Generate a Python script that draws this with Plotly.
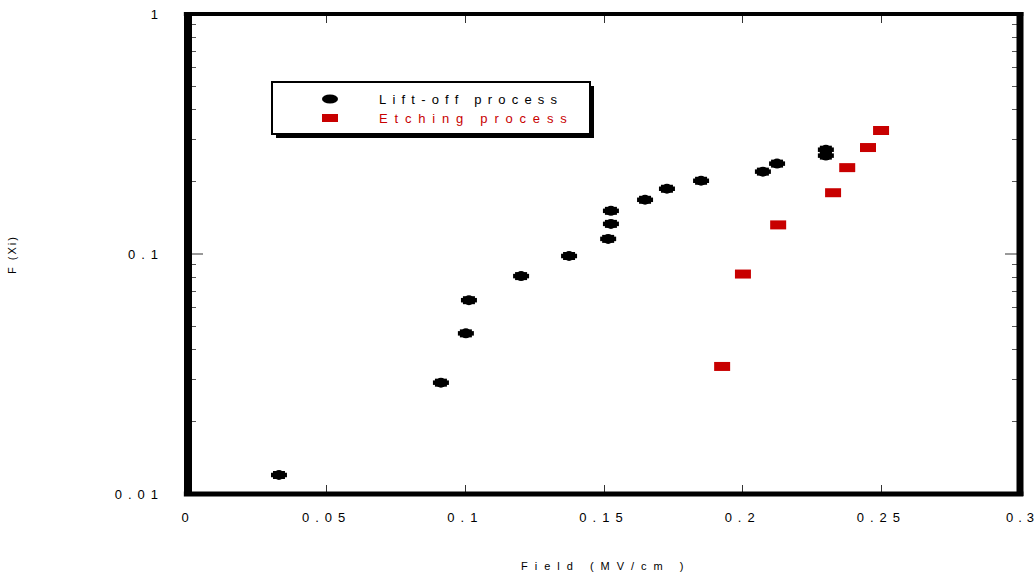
import plotly.graph_objects as go

# ---------------- data ----------------
lift_x = [0.0328, 0.0912, 0.1002, 0.1013, 0.1201, 0.1374, 0.1515, 0.1525, 0.1525,
          0.1648, 0.1727, 0.1850, 0.2073, 0.2124, 0.2300, 0.2300]
lift_y = [0.0120, 0.0291, 0.0467, 0.0642, 0.0809, 0.0981, 0.1156, 0.1335, 0.1513,
          0.1682, 0.1870, 0.2019, 0.2204, 0.2380, 0.2570, 0.2720]
etch_x = [0.1926, 0.2001, 0.2128, 0.2326, 0.2377, 0.2452, 0.2499]
etch_y = [0.0340, 0.0825, 0.1322, 0.1800, 0.2290, 0.2777, 0.3270]

x_ticks = [0, 0.05, 0.1, 0.15, 0.2, 0.25, 0.3]
x_ticktext = ["0", "0.05", "0.1", "0.15", "0.2", "0.25", "0.3"]
y_ticks = [0.01, 0.1, 1]
y_ticktext = ["0.01", "0.1", "1"]
y_minor = [m * 10 ** e for e in (-2, -1) for m in range(2, 10)]

series_names = ["Lift-off process", "Etching process"]
x_title = "Field (MV/cm )"
y_title = "F (Xi)"

RED = "#c80000"
FONT = "Liberation Sans, Arial, sans-serif"


def ls(s, px_):
    return '<span style="letter-spacing:%spx">%s</span>' % (px_, s)


def ls_edge(s, px_):
    # same spacing but without the trailing gap after the last character
    return ls(s[:-1], px_) + s[-1]


# ---------------- layout geometry (pixels) ----------------
W, H = 1036, 578
L, R, T, B = 188, 16, 14, 84
PW, PH = W - L - R, H - T - B


def px(xp):
    return (xp - L) / PW


def py(yp):
    return (H - B - yp) / PH


fig = go.Figure()

# Lift-off: ellipse built from a circle and two bars
fig.add_trace(go.Scatter(x=lift_x, y=lift_y, mode="markers", name=series_names[0],
                         marker=dict(symbol="circle", size=10, color="black", line=dict(width=0)),
                         showlegend=False, hoverinfo="x+y"))
fig.add_trace(go.Scatter(x=lift_x, y=lift_y, mode="markers", showlegend=False, hoverinfo="skip",
                         marker=dict(symbol="line-ew", size=12 / 1.4, color="black",
                                     line=dict(width=8, color="black"))))
fig.add_trace(go.Scatter(x=lift_x, y=lift_y, mode="markers", showlegend=False, hoverinfo="skip",
                         marker=dict(symbol="line-ew", size=16 / 1.4, color="black",
                                     line=dict(width=4.5, color="black"))))
# Etching: red rectangles
fig.add_trace(go.Scatter(x=etch_x, y=etch_y, mode="markers", name=series_names[1],
                         marker=dict(symbol="line-ew", size=16 / 1.4, color=RED,
                                     line=dict(width=9, color=RED)),
                         showlegend=False, hoverinfo="x+y"))

shapes = []
# frame (thick black lines)
shapes += [
    dict(type="line", xref="paper", yref="paper", x0=0, x1=0, y0=-0.004, y1=1.004,
         line=dict(color="black", width=8), layer="above"),
    dict(type="line", xref="paper", yref="paper", x0=1, x1=1, y0=-0.004, y1=1.004,
         line=dict(color="black", width=7), layer="above"),
    dict(type="line", xref="paper", yref="paper", x0=-0.005, x1=1.004, y0=1, y1=1,
         line=dict(color="black", width=4), layer="above"),
    dict(type="line", xref="paper", yref="paper", x0=-0.005, x1=1.004, y0=0, y1=0,
         line=dict(color="black", width=5), layer="above"),
]
# legend box with drop shadow
bx0, by0, bx1, by1 = 272, 82, 590, 134
sh = 4
shapes += [
    dict(type="rect", xref="paper", yref="paper", x0=px(bx0 + sh), x1=px(bx1 + sh),
         y0=py(by1 + sh), y1=py(by0 + sh), fillcolor="black", line=dict(width=0), layer="above"),
    dict(type="rect", xref="paper", yref="paper", x0=px(bx0), x1=px(bx1),
         y0=py(by1), y1=py(by0), fillcolor="white", line=dict(color="black", width=2), layer="above"),
]
# legend symbols
shapes += [
    dict(type="circle", xref="paper", yref="paper", xsizemode="pixel", ysizemode="pixel",
         xanchor=px(330), yanchor=py(99), x0=-8, x1=8, y0=-4.5, y1=4.5,
         fillcolor="black", line=dict(width=0), layer="above"),
    dict(type="rect", xref="paper", yref="paper", x0=px(322), x1=px(338),
         y0=py(122), y1=py(114),
         fillcolor=RED, line=dict(width=0), layer="above"),
]

annotations = [
    dict(text=ls(series_names[0], 6.2), xref="paper", yref="paper", x=px(377), y=py(99),
         xanchor="left", yanchor="middle", showarrow=False, font=dict(size=13, color="black", family=FONT)),
    dict(text=ls(series_names[1], 6.8), xref="paper", yref="paper", x=px(377), y=py(118),
         xanchor="left", yanchor="middle", showarrow=False, font=dict(size=13, color=RED, family=FONT)),
    dict(text=ls(x_title, 7), xref="paper", yref="paper", x=px(519), y=py(566),
         xanchor="left", yanchor="middle", showarrow=False, font=dict(size=11, color="black", family=FONT)),
    dict(text=ls(y_title, 2), xref="paper", yref="paper", x=px(12), y=py(255), textangle=-90,
         xanchor="center", yanchor="middle", showarrow=False, font=dict(size=11, color="black", family=FONT)),
]

x_labels = [ls(t, 6) for t in x_ticktext[:-1]] + [ls_edge(x_ticktext[-1], 5)]

fig.update_layout(
    width=W, height=H,
    margin=dict(l=L, r=R, t=T, b=B, pad=0),
    paper_bgcolor="white", plot_bgcolor="white",
    font=dict(family=FONT, size=13, color="black"),
    shapes=shapes, annotations=annotations,
    showlegend=False,
)
fig.update_xaxes(
    range=[0, 0.3], showgrid=False, zeroline=False, showline=False, automargin=False,
    tickmode="array", tickvals=x_ticks, ticktext=x_labels,
    ticks="inside", ticklen=9, tickwidth=1, tickcolor="#333333", mirror="ticks",
    ticklabelstandoff=14, ticklabeloverflow="allow",
    tickfont=dict(size=13, family=FONT, color="black"),
)
fig.update_yaxes(
    type="log", range=[-2, 0], showgrid=False, zeroline=False, showline=False, automargin=False,
    tickmode="array", tickvals=y_ticks, ticktext=[ls(t, 6) for t in y_ticktext],
    ticks="inside", ticklen=15, tickwidth=2, tickcolor="#999999", mirror="ticks",
    ticklabelstandoff=23, ticklabeloverflow="allow",
    tickfont=dict(size=13, family=FONT, color="black"),
    minor=dict(tickmode="array", tickvals=y_minor, ticks="inside", ticklen=8,
               tickwidth=1, tickcolor="#555555", showgrid=False),
)

fig.write_html("out.html")
